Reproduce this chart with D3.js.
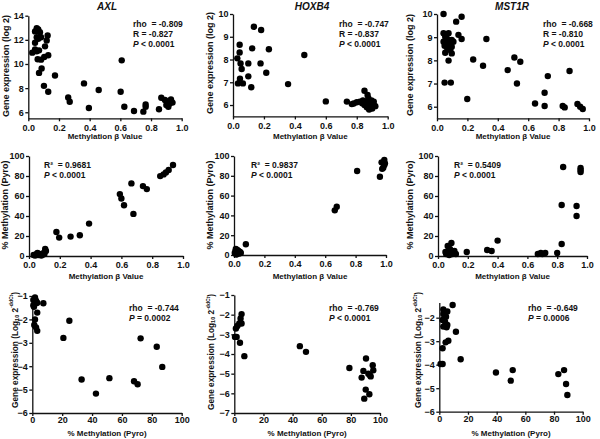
<!DOCTYPE html>
<html>
<head>
<meta charset="utf-8">
<script src="https://cdn.jsdelivr.net/npm/d3@7"></script>
<style>
body { margin: 0; background: #fff; }
svg { display: block; font-family: "Liberation Sans", Arial, sans-serif; font-weight: bold; }
</style>
</head>
<body>
<svg width="600" height="439"></svg>
<script>
const genes = ['AXL', 'HOXB4', 'MST1R'];

// row 1: methylation beta vs array expression (log 2)
const axlArray = [[0.026,10.94],[0.044,11.2],[0.055,12.96],[0.065,12.86],[0.044,12.7],[0.076,12.63],[0.055,12.22],[0.083,12.22],[0.065,12.09],[0.126,12.36],[0.12,11.95],[0.044,11.76],[0.109,11.46],[0.07,11.13],[0.055,11.05],[0.13,10.72],[0.104,10.58],[0.061,10.39],[0.083,10.36],[0.087,9.62],[0.07,9.26],[0.174,9.05],[0.102,8.19],[0.13,7.7],[0.26,7.23],[0.27,6.87],[0.363,8.39],[0.395,6.35],[0.459,7.84],[0.602,7.7],[0.609,10.3],[0.626,6.46],[0.689,6.1],[0.75,6.05],[0.765,6.45],[0.765,6.65],[0.852,6.25],[0.867,7.2],[0.891,7.01],[0.905,6.85],[0.925,6.96],[0.93,7.07],[0.94,6.8],[0.913,6.46],[0.9,6.6],[0.92,6.7]];
const hoxb4Array = [[0.135,9.44],[0.182,9.3],[0.043,8.65],[0.043,8.31],[0.028,8.05],[0.049,7.83],[0.056,7.58],[0.032,6.95],[0.045,7.16],[0.064,6.95],[0.099,7.83],[0.099,7.26],[0.118,6.78],[0.124,8.49],[0.178,7.83],[0.215,7.42],[0.232,8.45],[0.356,6.92],[0.461,8.2],[0.6,6.16],[0.736,6.15],[0.768,6.04],[0.78,6.07],[0.8,6.12],[0.82,6.15],[0.85,6.63],[0.87,6.44],[0.84,6.2],[0.86,6.05],[0.875,6.3],[0.88,5.95],[0.89,6.1],[0.9,5.85],[0.91,6.0],[0.895,6.2],[0.865,5.9],[0.85,6.0],[0.88,5.8],[0.92,5.95],[0.91,6.15],[0.87,6.15],[0.835,6.08]];
const mst1rArray = [[0.043,10.0],[0.162,9.88],[0.126,9.67],[0.043,9.17],[0.076,9.17],[0.141,9.1],[0.054,9.02],[0.162,8.92],[0.325,8.92],[0.043,8.8],[0.097,8.88],[0.108,8.8],[0.076,8.73],[0.05,8.63],[0.097,8.59],[0.087,8.45],[0.097,8.3],[0.054,8.33],[0.076,7.99],[0.05,7.04],[0.091,7.04],[0.199,6.33],[0.238,8.04],[0.303,7.77],[0.465,7.58],[0.509,8.12],[0.548,7.94],[0.526,7.0],[0.645,6.14],[0.708,6.6],[0.708,6.03],[0.729,7.32],[0.827,6.03],[0.84,5.97],[0.872,7.54],[0.924,6.12],[0.942,6.0],[0.959,5.9],[0.06,9.05],[0.07,8.9],[0.085,8.7],[0.065,8.55]];

// row 2: methylation beta vs pyrosequencing %
const axlPyro = [[0.03,1],[0.04,0.5],[0.05,2],[0.055,3],[0.06,1],[0.07,2],[0.08,0.5],[0.09,1.5],[0.095,3],[0.1,2],[0.105,7],[0.11,5],[0.178,24],[0.196,18.4],[0.27,19.4],[0.33,20.7],[0.39,32.4],[0.59,61.9],[0.6,57.5],[0.617,50.8],[0.678,42.1],[0.665,72.6],[0.74,69.9],[0.765,66.9],[0.852,79.9],[0.874,81.6],[0.889,83.6],[0.907,86],[0.935,91]];
const hoxb4Pyro = [[0.005,2],[0.01,4],[0.012,6],[0.018,3],[0.02,1],[0.022,5],[0.028,2.5],[0.03,4],[0.035,1.5],[0.04,3],[0.045,2],[0.015,0.5],[0.078,10.8],[0.663,45.1],[0.676,48.8],[0.81,84.8],[0.96,79.1],[0.971,93.6],[0.989,96],[0.989,90.9],[0.982,88.2],[0.975,87],[0.993,92.6]];
const mst1rPyro = [[0.05,4],[0.055,2],[0.06,3],[0.065,10],[0.07,5],[0.075,1],[0.08,7],[0.09,13],[0.095,2],[0.1,3],[0.11,5],[0.12,2],[0.193,4],[0.33,6],[0.36,5],[0.4,15.4],[0.67,2],[0.69,3],[0.7,2],[0.72,3],[0.8,3],[0.83,12],[0.83,51],[0.84,89],[0.93,50],[0.93,40],[0.957,84],[0.957,88],[0.957,86]];

// row 3: pyrosequencing % vs qPCR expression
const axlQpcr = [[1.8,-1.06],[2.5,-1.2],[0.7,-1.39],[2.5,-1.31],[3.3,-1.29],[7.4,-1.31],[3.3,-1.71],[1.8,-2.0],[1.3,-2.24],[2.5,-2.34],[3.3,-2.49],[0.7,-1.17],[1.1,-1.46],[24.8,-2.06],[20.8,-2.79],[33,-4.57],[42.6,-5.17],[51.6,-4.51],[68.1,-4.64],[70.5,-4.77],[72.5,-2.81],[83.3,-3.17],[87,-4.03]];
const hoxb4Qpcr = [[5,-1.97],[4.3,-2.19],[3.4,-2.45],[5,-2.45],[2.1,-2.58],[1.1,-2.7],[0.5,-3.13],[1.6,-3.13],[3.9,-3.43],[6.9,-4.11],[45,-3.6],[49.2,-3.89],[79,-4.71],[88.6,-4.86],[90.4,-4.23],[87.4,-5.2],[92,-5.0],[93.1,-5.08],[95,-4.57],[95.4,-4.83],[93.6,-5.14],[90.2,-5.81],[92.7,-6.05],[89.2,-6.27]];
const mst1rQpcr = [[9.3,-1.46],[2.8,-1.65],[5.6,-1.74],[2.8,-1.84],[4.7,-1.96],[2.3,-2.1],[4,-2.17],[5.6,-2.31],[2.8,-2.38],[5.1,-2.41],[11.6,-2.6],[6.3,-2.98],[4.4,-3.05],[2.3,-3.3],[14.9,-3.77],[0.9,-3.97],[2.3,-3.97],[39.5,-4.33],[51.2,-4.23],[49.8,-4.68],[83,-4.4],[87,-4.23],[88.4,-4.82],[89.3,-5.29]];

const betaTicks = [0, 0.2, 0.4, 0.6, 0.8, 1.0];
const pctTicks = [0, 20, 40, 60, 80, 100];
const arrayStats = [['rho  = -0.809', 'R = -0.827', 'P < 0.0001'], ['rho  = -0.747', 'R = -0.837', 'P < 0.0001'], ['rho  = -0.668', 'R = -0.810', 'P < 0.0001']];
const pyroStats = [['R²  = 0.9681', 'P < 0.0001'], ['R²  = 0.9837', 'P < 0.0001'], ['R²  = 0.5409', 'P < 0.0001']];
const qpcrStats = [['rho  = -0.744', 'P = 0.0002'], ['rho  = -0.769', 'P < 0.0001'], ['rho  = -0.649', 'P = 0.0006']];

const svg = d3.select('svg');

const panels = [
  { data: axlArray, xd: [0, 1], yd: [5.5, 14], xr: [28.3, 181.7], yr: [118.3, 15.7], xt: betaTicks, yt: [6, 8, 10, 12, 14], xf: '.1f', stats: arrayStats[0], sx: 133, sy: 27, yl: 6, ylc: 66, xl: 'beta', xly: 139, pad: 3 },
  { data: hoxb4Array, xd: [0, 1], yd: [5.5, 10], xr: [233, 387.7], yr: [116.4, 14], xt: betaTicks, yt: [6, 7, 8, 9, 10], xf: '.1f', stats: arrayStats[1], sx: 339, sy: 27, yl: 210, ylc: 63, xl: 'beta', xly: 139, pad: 3 },
  { data: mst1rArray, xd: [0, 1], yd: [5.5, 10], xr: [437, 589], yr: [118.3, 14], xt: betaTicks, yt: [6, 7, 8, 9, 10], xf: '.1f', stats: arrayStats[2], sx: 543, sy: 27, yl: 410, ylc: 65, xl: 'beta', xly: 139, pad: 3 },
  { data: axlPyro, xd: [0, 1], yd: [0, 100], xr: [29, 183], yr: [256, 156], xt: betaTicks, yt: pctTicks, xf: '.1f', stats: pyroStats[0], sx: 44, sy: 167.5, yl: 5, ylc: 205, xl: 'beta', xly: 279, pad: 3 },
  { data: hoxb4Pyro, xd: [0, 1], yd: [0, 100], xr: [234, 386], yr: [255, 156], xt: betaTicks, yt: pctTicks, xf: '.1f', stats: pyroStats[1], sx: 251, sy: 167.5, yl: 210, ylc: 205, xl: 'beta', xly: 279, pad: 3 },
  { data: mst1rPyro, xd: [0, 1], yd: [0, 100], xr: [438, 587], yr: [256, 156], xt: betaTicks, yt: pctTicks, xf: '.1f', stats: pyroStats[2], sx: 454, sy: 167.5, yl: 410, ylc: 205, xl: 'beta', xly: 279, pad: 3 },
  { data: axlQpcr, xd: [0, 100], yd: [-6, -1], xr: [32.3, 181.7], yr: [413, 296], xt: pctTicks, yt: [-6, -5, -4, -3, -2, -1], xf: 'd', stats: qpcrStats[0], sx: 129, sy: 311, yl: 14.5, ylc: 350, xl: 'pyro', xly: 436, pad: 1 },
  { data: hoxb4Qpcr, xd: [0, 100], yd: [-7, -1], xr: [234.3, 380], yr: [413, 295], xt: pctTicks, yt: [-7, -6, -5, -4, -3, -2, -1], xf: 'd', stats: qpcrStats[1], sx: 329, sy: 311, yl: 211, ylc: 352, xl: 'pyro', xly: 436, pad: 1 },
  { data: mst1rQpcr, xd: [0, 100], yd: [-6, -1.35], xr: [439.3, 582.7], yr: [411.7, 302.4], xt: pctTicks, yt: [-6, -5, -4, -3, -2], xf: 'd', stats: qpcrStats[2], sx: 528, sy: 311, yl: 418, ylc: 350, xl: 'pyro', xly: 436, pad: 1 }
];

function styleAxis(g) {
  g.select('.domain').attr('stroke', '#111').attr('stroke-width', 1.3);
  g.selectAll('.tick line').attr('stroke', '#111').attr('stroke-width', 1.3);
  g.selectAll('.tick text').attr('fill', '#111').attr('font-size', 9).attr('font-weight', 'bold')
    .attr('font-family', '"Liberation Sans", Arial, sans-serif');
}

panels.forEach((p, i) => {
  const x = d3.scaleLinear().domain(p.xd).range(p.xr);
  const y = d3.scaleLinear().domain(p.yd).range(p.yr);
  const g = svg.append('g');

  g.append('g').attr('transform', `translate(0,${p.yr[0]})`)
    .call(d3.axisBottom(x).tickValues(p.xt).tickFormat(d3.format(p.xf)).tickSize(3).tickSizeOuter(0).tickPadding(p.pad))
    .call(styleAxis);
  g.append('g').attr('transform', `translate(${p.xr[0]},0)`)
    .call(d3.axisLeft(y).tickValues(p.yt).tickFormat(d3.format('d')).tickSize(3).tickSizeOuter(0).tickPadding(1.5))
    .call(styleAxis);

  g.selectAll('circle').data(p.data).join('circle')
    .attr('cx', d => x(d[0])).attr('cy', d => y(d[1])).attr('r', 3.2).attr('fill', '#000');

  // x title
  g.append('text').attr('x', (p.xr[0] + p.xr[1]) / 2).attr('y', p.xly)
    .attr('text-anchor', 'middle').attr('font-size', 8).attr('fill', '#111')
    .text(p.xl === 'beta' ? 'Methylation β Value' : '% Methylation (Pyro)');

  // y title
  const yt = g.append('text').attr('transform', `translate(${p.yl},${p.ylc}) rotate(-90)`)
    .attr('text-anchor', 'middle').attr('dominant-baseline', 'central').attr('fill', '#111');
  if (i < 3) {
    yt.attr('font-size', 9).text('Gene expression (log 2)');
  } else if (i < 6) {
    yt.attr('font-size', 9).text('% Methylation (Pyro)');
  } else {
    yt.attr('font-size', 8.3);
    yt.append('tspan').text('Gene expression (Log');
    yt.append('tspan').attr('font-size', 5.5).attr('dy', 2).text('10');
    yt.append('tspan').attr('dy', -2).text(' 2');
    yt.append('tspan').attr('font-size', 5).attr('dy', -3.5).text('-ddCt');
    yt.append('tspan').attr('dy', 3.5).text(')');
  }

  // stats
  p.stats.forEach((s, k) => {
    const t = g.append('text').attr('x', p.sx).attr('y', p.sy + k * 10)
      .attr('font-size', 8.5).attr('fill', '#111').style('white-space', 'pre');
    if (s.startsWith('P ')) {
      t.append('tspan').attr('font-style', 'italic').text('P');
      t.append('tspan').text(s.slice(1));
    } else {
      t.text(s);
    }
  });
});

// gene titles
const titleX = [107, 312, 512];
genes.forEach((name, i) => {
  svg.append('text').attr('x', titleX[i]).attr('y', 10).attr('text-anchor', 'middle')
    .attr('font-size', 10).attr('font-style', 'italic').attr('fill', '#111').text(name);
});
</script>
</body>
</html>
